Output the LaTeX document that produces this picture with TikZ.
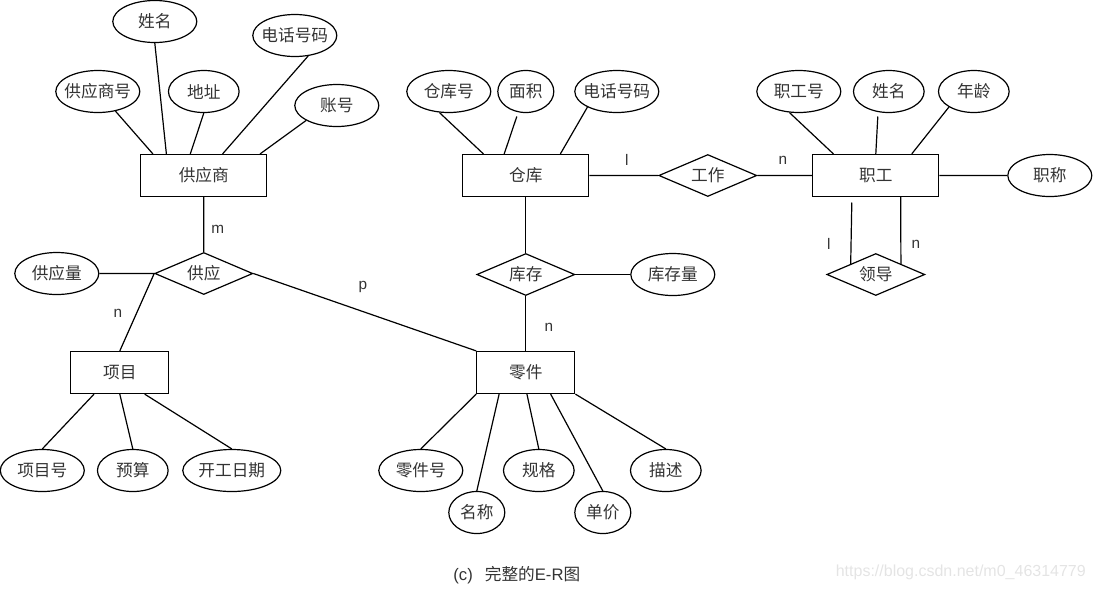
\documentclass[tikz,border=0pt]{standalone}
\usepackage{fontspec}
\setmainfont{Liberation Sans}
\newfontfamily\cjk{Noto Sans CJK SC}
\usetikzlibrary{shapes.geometric}
\definecolor{ink}{HTML}{333333}
\definecolor{mark}{HTML}{E4E4E4}
\tikzset{
  ent/.style={draw, rectangle, minimum width=94.5pt, minimum height=31.5pt, inner sep=0pt, font=\cjk\fontsize{12.5}{14}\selectfont, text=ink},
  attr/.style={draw, ellipse, minimum width=63pt, minimum height=31.5pt, inner sep=-8pt, font=\cjk\fontsize{12.5}{14}\selectfont, text=ink},
  rel/.style={draw, diamond, minimum width=73.5pt, minimum height=31.5pt, inner sep=-4pt, font=\cjk\fontsize{12.5}{14}\selectfont, text=ink},
  card/.style={font=\fontsize{11.5}{13}\selectfont, text=ink}
}
\begin{document}
\begin{tikzpicture}[x=.75pt,y=-.75pt,line width=.9pt]
      \useasboundingbox (.2,-.5) rectangle (1094.2,589.5);

      % supplier
      \node (sup) at (204,175) [ent] {供应商};
      \node (supname) at (155,21) [attr] {姓名};
      \node (suptel) at (295,35) [attr] {电话号码};
      \node (supno) at (98,91) [attr] {供应商号};
      \node (supaddr) at (204,91) [attr, minimum width=53pt] {地址};
      \node (supacc) at (337,105) [attr] {账号};
      \draw 
      (supname.south) to (sup.150)
      (suptel.-57) to (sup.49)
      (supno.-48) to (sup.157)
      (supaddr.south) to (sup.122)
      (supacc.-154) to (sup.21);

      % store
      \node (store) at (526,175) [ent] {仓库};
      \node (storeno) at (449,91) [attr] {仓库号};
      \node (storearea) at (526,91) [attr, minimum width=42pt] {面积};
      \node (storetel) at (617,91) [attr] {电话号码};
      \coordinate (areafree) at (517,116);
      \draw 
      (storeno.-114) to (store.153)
      (areafree) to (store.135)
      (storetel.-152) to (store.32);

      % staff
      \node (staff) at (876,175) [ent] {职工};
      \node (staffno) at (799,91) [attr] {职工号};
      \node (staffname) at (889,91) [attr, minimum width=53pt] {姓名};
      \node (staffage) at (974,91) [attr, minimum width=53pt] {年龄};
      \node (stafftitle) at (1050,175) [attr] {职称};
      \coordinate (namefree) at (878,116);
      \draw 
      (staffno.-114) to (staff.153)
      (namefree) to (staff.north)
      (staffage.-148) to (staff.31)
      (staff.east) to (stafftitle.west);

      % work, lead
      \node (work) at (708,175) [rel] {工作};
      \node (lead) at (876,274) [rel] {领导};
      \coordinate (leadfree) at (852,202);
      \draw 
      (store.east) to (work.west)
      (work.east) to (staff.west)
      (leadfree) to (lead.157)
      (staff.-41) to (lead.23);
      \node (cardl) at (627,159) [card] {l};
      \node (cardn) at (783,160) [card] {n};
      \node (leadl) at (829,243) [card] {l};
      \node (leadn) at (916,244) [card] {n};

      % supply
      \node (supply) at (204,273) [rel] {供应};
      \node (supplyq) at (57,273) [attr] {供应量};
      \node (proj) at (120,372) [ent, minimum width=73.5pt] {项目};
      \node (part) at (526,372) [ent, minimum width=73.5pt] {零件};
      \draw 
      (sup.south) to (supply.north)
      (supplyq.east) to (supply.west) to (proj.north)
      (supply.east) to (part.north west);
      \node (supm) at (218,229) [card] {m};
      \node (supp) at (363,286) [card] {p};
      \node (supn) at (118,313) [card] {n};

      % stock
      \node (stock) at (526,274) [rel] {库存};
      \node (stockq) at (673,274) [attr] {库存量};
      \draw 
      (store.south) to (stock.north)
      (stock.south) to (part.north)
      (stock.east) to (stockq.west);
      \node (stockn) at (549,327) [card] {n};

      % project
      \node (projno) at (42.5,470) [attr] {项目号};
      \node (projcost) at (133,470) [attr, minimum width=53pt] {预算};
      \node (projdate) at (232,470) [attr, minimum width=73.5pt] {开工日期};
      \draw 
      (proj.-140) to (projno.north)
      (proj.south) to (projcost.north)
      (proj.-41) to (projdate.north);

      % part
      \node (partno) at (421,470) [attr] {零件号};
      \node (partname) at (477,512) [attr, minimum width=42pt] {名称};
      \node (partspec) at (539,470) [attr, minimum width=53pt] {规格};
      \node (partprice) at (603,512) [attr, minimum width=42pt] {单价};
      \node (partdesc) at (666,470) [attr, minimum width=53pt] {描述};
      \draw 
      (part.south west) to (partno.north)
      (part.-141) to (partname.north)
      (part.-87) to (partspec.north)
      (part.-41) to (partprice.north)
      (part.south east) to (partdesc.north);

      \node (caption) at (517,575) [font=\fontsize{12.5}{14}\selectfont, text=ink] {(c)\hspace{9pt}{\cjk 完整的}E-R{\cjk 图}};
      \node (wmark) at (961,572) [font=\fontsize{12}{14}\selectfont, text=mark] {https://blog.csdn.net/m0\_46314779};

    \end{tikzpicture}
\end{document}
